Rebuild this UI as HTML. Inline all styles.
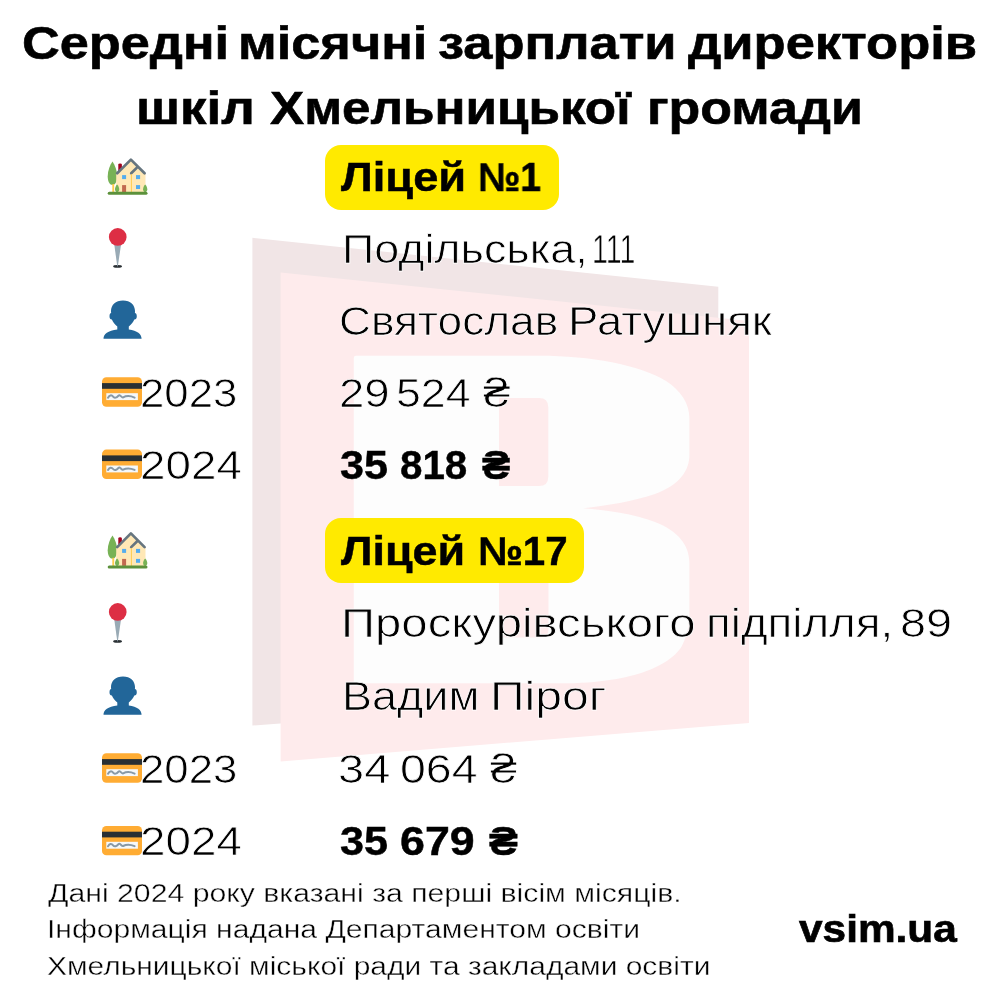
<!DOCTYPE html>
<html lang="uk"><head><meta charset="utf-8"><title>Середні місячні зарплати директорів шкіл Хмельницької громади</title>
<style>
html,body{margin:0;padding:0;background:#fff;}
body{width:1000px;height:1000px;position:relative;overflow:hidden;font-family:"Liberation Sans",Arial,"DejaVu Sans",sans-serif;color:#000;}
.t{position:absolute;white-space:nowrap;line-height:1;transform-origin:0 0;will-change:transform;}
.badge{position:absolute;background:#ffea00;border-radius:16px;}
svg.layer{position:absolute;left:0;top:0;}
</style></head>
<body>
<svg class="layer" width="1000" height="1000" viewBox="0 0 1000 1000">
<path fill="#F1E5E6" d="M252.4 237.8L718.3 286.8L718.3 690L252.4 725.6Z"/>
<path fill="#FEEBEC" d="M280.6 272.4L749 321L749 723L280.6 761.4Z"/>
<path fill="#FDFDFD" fill-rule="evenodd" d="M353.8 358Q353.8 355.8 356 355.8L540 355.8C590 355.8 640 365 666 381C680 390 689.4 403 689.4 418L689.4 455C689.4 470 680 485 655 494C635 501 605 506 583.2 508.3C605 510 635 514 655 522C678 531 689.4 545 689.4 563L689.4 612C689.4 628 686 638 681.6 646.4C672 662 640 683.3 560 683.3L353.8 683.3ZM499 398L539 398Q548.3 398 548.3 407.3L548.3 476.7Q548.3 486 539 486L499 486ZM499 527L540 527Q548.5 527 548.5 535.5L548.5 629Q548.5 637.5 540 637.5L499 637.5Z"/>
</svg>
<div class="badge" style="left:325px;top:145px;width:234px;height:65px"></div>
<div class="badge" style="left:325px;top:518.4px;width:258.6px;height:64.6px"></div>
<svg class="layer" width="1000" height="1000" viewBox="0 0 1000 1000"><g transform="translate(0 0)"><path fill="#77B255" d="M112.45 161.6C109.9 165.3 107.7 170.8 107.7 176.4C107.7 181.6 109.9 184.9 112.45 184.9C115 184.9 117.2 181.6 117.2 176.4C117.2 170.8 115 165.3 112.45 161.6Z"/>
<rect x="112.3" y="184" width="1.9" height="8.2" fill="#FFCC4D"/>
<path fill="#A0041E" d="M118.3 171V164.6Q118.3 163.4 120.1 163.4Q121.9 163.4 121.9 164.6V171Z"/>
<path fill="#FFE8B6" d="M116.2 174.6L130.9 159.6L145.5 174.6V192.2H116.2Z"/>
<path fill="none" stroke="#66757F" stroke-width="2.7" stroke-linecap="round" stroke-linejoin="round" d="M117.2 173.3L130.9 159.6L144.6 173.3M131.2 173.3L137.7 166.9"/>
<rect x="130.9" y="174.2" width="1" height="18" fill="#FFCC4D"/>
<rect x="122.1" y="175.1" width="4" height="4" fill="#55ACEE"/>
<rect x="136" y="175.1" width="4.1" height="4" fill="#55ACEE"/>
<rect x="136" y="185.1" width="4.1" height="3.9" fill="#55ACEE"/>
<rect x="122.1" y="185.1" width="4" height="7" fill="#C1694F"/>
<path fill="#77B255" d="M117.1 184.6C115.8 186 115 187.6 115 189.3C115 191 115.9 192.2 117.1 192.2C118.3 192.2 119.2 191 119.2 189.3C119.2 187.6 118.4 186 117.1 184.6Z"/>
<path fill="#77B255" d="M145.2 184.6C143.9 186 143.1 187.6 143.1 189.3C143.1 191 144 192.2 145.2 192.2C146.4 192.2 147.3 191 147.3 189.3C147.3 187.6 146.5 186 145.2 184.6Z"/>
<rect x="107.7" y="191.8" width="39.8" height="3" rx="1.5" fill="#5C913B"/></g><g transform="translate(0 0)"><ellipse cx="117.55" cy="266.4" rx="4.45" ry="1.4" fill="#292F33"/>
<path fill="#99AAB5" d="M114.2 244L121.1 244L117.8 266.6L117.3 266.6Z"/>
<circle cx="117.75" cy="236.9" r="8.85" fill="#DD2E44"/></g><g transform="translate(0 0)"><path fill="#226699" d="M117.3 326.6C114.5 324.5 112.8 322 111.9 319.6C110.6 319.8 109.5 318.5 109.5 316.3C109.5 314.3 110.3 313.1 111.2 313.1C111 312.5 111 311.8 111 311C111 305 115.5 300.4 123 300.4C130.5 300.4 135 305 135 311C135 311.8 135 312.5 134.9 313.1C135.9 313.1 136.8 314.3 136.8 316.3C136.8 318.5 135.6 319.8 134.3 319.6C133.4 322 131.6 324.5 128.8 326.6V329.4C137.2 330.5 141.7 334 141.6 338.8H103.5C103.4 334 108 330.5 117.3 329.4Z"/></g><g transform="translate(0 377.30)"><rect x="102" y="0" width="40" height="29.4" rx="4.4" fill="#FFAC33"/>
<rect x="102" y="5.8" width="40" height="5.7" fill="#292F33"/>
<rect x="106.3" y="15.9" width="31.6" height="6.9" fill="#F5F8FA"/>
<path fill="none" stroke="#8899A6" stroke-width="2" stroke-linecap="round" d="M108 20.4C109.6 17.6 111.6 17.4 113.1 19.4S116.6 20.3 118.4 18.4S121.6 20.9 123.1 20.1S128.6 17.6 134.6 20.3"/></g><g transform="translate(0 449.60)"><rect x="102" y="0" width="40" height="29.4" rx="4.4" fill="#FFAC33"/>
<rect x="102" y="5.8" width="40" height="5.7" fill="#292F33"/>
<rect x="106.3" y="15.9" width="31.6" height="6.9" fill="#F5F8FA"/>
<path fill="none" stroke="#8899A6" stroke-width="2" stroke-linecap="round" d="M108 20.4C109.6 17.6 111.6 17.4 113.1 19.4S116.6 20.3 118.4 18.4S121.6 20.9 123.1 20.1S128.6 17.6 134.6 20.3"/></g><g transform="translate(0 373.8)"><path fill="#77B255" d="M112.45 161.6C109.9 165.3 107.7 170.8 107.7 176.4C107.7 181.6 109.9 184.9 112.45 184.9C115 184.9 117.2 181.6 117.2 176.4C117.2 170.8 115 165.3 112.45 161.6Z"/>
<rect x="112.3" y="184" width="1.9" height="8.2" fill="#FFCC4D"/>
<path fill="#A0041E" d="M118.3 171V164.6Q118.3 163.4 120.1 163.4Q121.9 163.4 121.9 164.6V171Z"/>
<path fill="#FFE8B6" d="M116.2 174.6L130.9 159.6L145.5 174.6V192.2H116.2Z"/>
<path fill="none" stroke="#66757F" stroke-width="2.7" stroke-linecap="round" stroke-linejoin="round" d="M117.2 173.3L130.9 159.6L144.6 173.3M131.2 173.3L137.7 166.9"/>
<rect x="130.9" y="174.2" width="1" height="18" fill="#FFCC4D"/>
<rect x="122.1" y="175.1" width="4" height="4" fill="#55ACEE"/>
<rect x="136" y="175.1" width="4.1" height="4" fill="#55ACEE"/>
<rect x="136" y="185.1" width="4.1" height="3.9" fill="#55ACEE"/>
<rect x="122.1" y="185.1" width="4" height="7" fill="#C1694F"/>
<path fill="#77B255" d="M117.1 184.6C115.8 186 115 187.6 115 189.3C115 191 115.9 192.2 117.1 192.2C118.3 192.2 119.2 191 119.2 189.3C119.2 187.6 118.4 186 117.1 184.6Z"/>
<path fill="#77B255" d="M145.2 184.6C143.9 186 143.1 187.6 143.1 189.3C143.1 191 144 192.2 145.2 192.2C146.4 192.2 147.3 191 147.3 189.3C147.3 187.6 146.5 186 145.2 184.6Z"/>
<rect x="107.7" y="191.8" width="39.8" height="3" rx="1.5" fill="#5C913B"/></g><g transform="translate(0 375)"><ellipse cx="117.55" cy="266.4" rx="4.45" ry="1.4" fill="#292F33"/>
<path fill="#99AAB5" d="M114.2 244L121.1 244L117.8 266.6L117.3 266.6Z"/>
<circle cx="117.75" cy="236.9" r="8.85" fill="#DD2E44"/></g><g transform="translate(0 376)"><path fill="#226699" d="M117.3 326.6C114.5 324.5 112.8 322 111.9 319.6C110.6 319.8 109.5 318.5 109.5 316.3C109.5 314.3 110.3 313.1 111.2 313.1C111 312.5 111 311.8 111 311C111 305 115.5 300.4 123 300.4C130.5 300.4 135 305 135 311C135 311.8 135 312.5 134.9 313.1C135.9 313.1 136.8 314.3 136.8 316.3C136.8 318.5 135.6 319.8 134.3 319.6C133.4 322 131.6 324.5 128.8 326.6V329.4C137.2 330.5 141.7 334 141.6 338.8H103.5C103.4 334 108 330.5 117.3 329.4Z"/></g><g transform="translate(0 753.30)"><rect x="102" y="0" width="40" height="29.4" rx="4.4" fill="#FFAC33"/>
<rect x="102" y="5.8" width="40" height="5.7" fill="#292F33"/>
<rect x="106.3" y="15.9" width="31.6" height="6.9" fill="#F5F8FA"/>
<path fill="none" stroke="#8899A6" stroke-width="2" stroke-linecap="round" d="M108 20.4C109.6 17.6 111.6 17.4 113.1 19.4S116.6 20.3 118.4 18.4S121.6 20.9 123.1 20.1S128.6 17.6 134.6 20.3"/></g><g transform="translate(0 825.90)"><rect x="102" y="0" width="40" height="29.4" rx="4.4" fill="#FFAC33"/>
<rect x="102" y="5.8" width="40" height="5.7" fill="#292F33"/>
<rect x="106.3" y="15.9" width="31.6" height="6.9" fill="#F5F8FA"/>
<path fill="none" stroke="#8899A6" stroke-width="2" stroke-linecap="round" d="M108 20.4C109.6 17.6 111.6 17.4 113.1 19.4S116.6 20.3 118.4 18.4S121.6 20.9 123.1 20.1S128.6 17.6 134.6 20.3"/></g></svg>
<div class="t" id="T1_0" style="left:21.73px;top:19.83px;font-size:46.5px;font-weight:700;transform:scaleX(1.1241);-webkit-text-stroke:0.6px #000">Середні</div>
<div class="t" id="T1_1" style="left:238.46px;top:19.83px;font-size:46.5px;font-weight:700;transform:scaleX(1.1253);-webkit-text-stroke:0.6px #000">місячні</div>
<div class="t" id="T1_2" style="left:438.48px;top:19.83px;font-size:46.5px;font-weight:700;transform:scaleX(1.1274);-webkit-text-stroke:0.6px #000">зарплати</div>
<div class="t" id="T1_3" style="left:688.49px;top:19.83px;font-size:46.5px;font-weight:700;transform:scaleX(1.1287);-webkit-text-stroke:0.6px #000">директорів</div>
<div class="t" id="T2_0" style="left:135.95px;top:84.63px;font-size:46.5px;font-weight:700;transform:scaleX(1.1369);-webkit-text-stroke:0.6px #000">шкіл</div>
<div class="t" id="T2_1" style="left:270.00px;top:84.63px;font-size:46.5px;font-weight:700;transform:scaleX(1.1013);-webkit-text-stroke:0.6px #000">Хмельницької</div>
<div class="t" id="T2_2" style="left:647.00px;top:84.63px;font-size:46.5px;font-weight:700;transform:scaleX(1.1165);-webkit-text-stroke:0.6px #000">громади</div>
<div class="t" id="B1_0" style="left:341.01px;top:156.83px;font-size:40px;font-weight:700;transform:scaleX(1.1315);-webkit-text-stroke:0.45px #000">Ліцей</div>
<div class="t" id="B1_1" style="left:477.78px;top:156.83px;font-size:40px;font-weight:700;transform:scaleX(0.9458);-webkit-text-stroke:0.45px #000">№1</div>
<div class="t" id="R1a_0" style="left:341.59px;top:228.73px;font-size:40px;font-weight:400;transform:scaleX(1.1216);-webkit-text-stroke:0.75px #fff">Подільська,</div>
<div class="t" id="R1a_1" style="left:592.24px;top:228.73px;font-size:40px;font-weight:400;transform:scaleX(0.7140);-webkit-text-stroke:0.75px #fff">111</div>
<div class="t" id="R1b_0" style="left:338.53px;top:300.83px;font-size:40px;font-weight:400;transform:scaleX(1.1052);-webkit-text-stroke:0.75px #fff">Святослав</div>
<div class="t" id="R1b_1" style="left:568.41px;top:300.83px;font-size:40px;font-weight:400;transform:scaleX(1.1395);-webkit-text-stroke:0.75px #fff">Ратушняк</div>
<div class="t" id="R1c_0" style="left:338.89px;top:372.93px;font-size:40px;font-weight:400;transform:scaleX(1.1378);-webkit-text-stroke:0.75px #fff">29</div>
<div class="t" id="R1c_1" style="left:396.46px;top:372.93px;font-size:40px;font-weight:400;transform:scaleX(1.1164);-webkit-text-stroke:0.75px #fff">524</div>
<div class="t" id="R1c_2" style="left:483.40px;top:372.93px;font-size:40px;font-weight:400;transform:scaleX(1.2308);-webkit-text-stroke:0.75px #fff">₴</div>
<div class="t" id="R1d_0" style="left:339.98px;top:444.93px;font-size:40px;font-weight:700;transform:scaleX(1.0795);-webkit-text-stroke:0.45px #000">35</div>
<div class="t" id="R1d_1" style="left:399.57px;top:444.93px;font-size:40px;font-weight:700;transform:scaleX(1.0082);-webkit-text-stroke:0.45px #000">818</div>
<div class="t" id="R1d_2" style="left:481.50px;top:444.93px;font-size:40px;font-weight:700;transform:scaleX(1.0604);-webkit-text-stroke:0.45px #000">₴</div>
<div class="t" id="Y1a" style="left:139.99px;top:372.93px;font-size:40px;font-weight:400;transform:scaleX(1.0942);-webkit-text-stroke:0.75px #fff">2023</div>
<div class="t" id="Y1b" style="left:139.87px;top:444.93px;font-size:40px;font-weight:400;transform:scaleX(1.1446);-webkit-text-stroke:0.75px #fff">2024</div>
<div class="t" id="B2_0" style="left:341.48px;top:530.73px;font-size:40px;font-weight:700;transform:scaleX(1.1230);-webkit-text-stroke:0.45px #000">Ліцей</div>
<div class="t" id="B2_1" style="left:478.20px;top:530.73px;font-size:40px;font-weight:700;transform:scaleX(1.0056);-webkit-text-stroke:0.45px #000">№17</div>
<div class="t" id="R2a_0" style="left:340.91px;top:602.83px;font-size:40px;font-weight:400;transform:scaleX(1.1829);-webkit-text-stroke:0.75px #fff">Проскурівського</div>
<div class="t" id="R2a_1" style="left:706.05px;top:602.83px;font-size:40px;font-weight:400;transform:scaleX(1.1423);-webkit-text-stroke:0.75px #fff">підпілля,</div>
<div class="t" id="R2a_2" style="left:899.97px;top:602.83px;font-size:40px;font-weight:400;transform:scaleX(1.1703);-webkit-text-stroke:0.75px #fff">89</div>
<div class="t" id="R2b_0" style="left:341.64px;top:676.03px;font-size:40px;font-weight:400;transform:scaleX(1.1247);-webkit-text-stroke:0.75px #fff">Вадим</div>
<div class="t" id="R2b_1" style="left:489.85px;top:676.03px;font-size:40px;font-weight:400;transform:scaleX(1.2033);-webkit-text-stroke:0.75px #fff">Пірог</div>
<div class="t" id="R2c_0" style="left:337.93px;top:748.93px;font-size:40px;font-weight:400;transform:scaleX(1.1750);-webkit-text-stroke:0.75px #fff">34</div>
<div class="t" id="R2c_1" style="left:400.47px;top:748.93px;font-size:40px;font-weight:400;transform:scaleX(1.1622);-webkit-text-stroke:0.75px #fff">064</div>
<div class="t" id="R2c_2" style="left:490.43px;top:748.93px;font-size:40px;font-weight:400;transform:scaleX(1.2167);-webkit-text-stroke:0.75px #fff">₴</div>
<div class="t" id="R2d_0" style="left:340.03px;top:820.83px;font-size:40px;font-weight:700;transform:scaleX(1.0789);-webkit-text-stroke:0.45px #000">35</div>
<div class="t" id="R2d_1" style="left:399.99px;top:820.83px;font-size:40px;font-weight:700;transform:scaleX(1.1193);-webkit-text-stroke:0.45px #000">679</div>
<div class="t" id="R2d_2" style="left:488.51px;top:820.83px;font-size:40px;font-weight:700;transform:scaleX(1.0841);-webkit-text-stroke:0.45px #000">₴</div>
<div class="t" id="Y2a" style="left:139.99px;top:748.93px;font-size:40px;font-weight:400;transform:scaleX(1.0942);-webkit-text-stroke:0.75px #fff">2023</div>
<div class="t" id="Y2b" style="left:139.87px;top:820.83px;font-size:40px;font-weight:400;transform:scaleX(1.1446);-webkit-text-stroke:0.75px #fff">2024</div>
<div class="t" id="F1" style="left:47.50px;top:879.59px;font-size:26px;font-weight:400;transform:scaleX(1.1620);-webkit-text-stroke:0.4px #fff">Дані 2024 року вказані за перші вісім місяців.</div>
<div class="t" id="F2" style="left:46.68px;top:915.99px;font-size:26px;font-weight:400;transform:scaleX(1.1568);-webkit-text-stroke:0.4px #fff">Інформація надана Департаментом освіти</div>
<div class="t" id="F3" style="left:46.85px;top:952.99px;font-size:26px;font-weight:400;transform:scaleX(1.1522);-webkit-text-stroke:0.4px #fff">Хмельницької міської ради та закладами освіти</div>
<div class="t" id="V" style="left:799.00px;top:909.16px;font-size:39.5px;font-weight:700;transform:scaleX(1.0726);-webkit-text-stroke:0.7px #000">vsim.ua</div>
</body></html>
